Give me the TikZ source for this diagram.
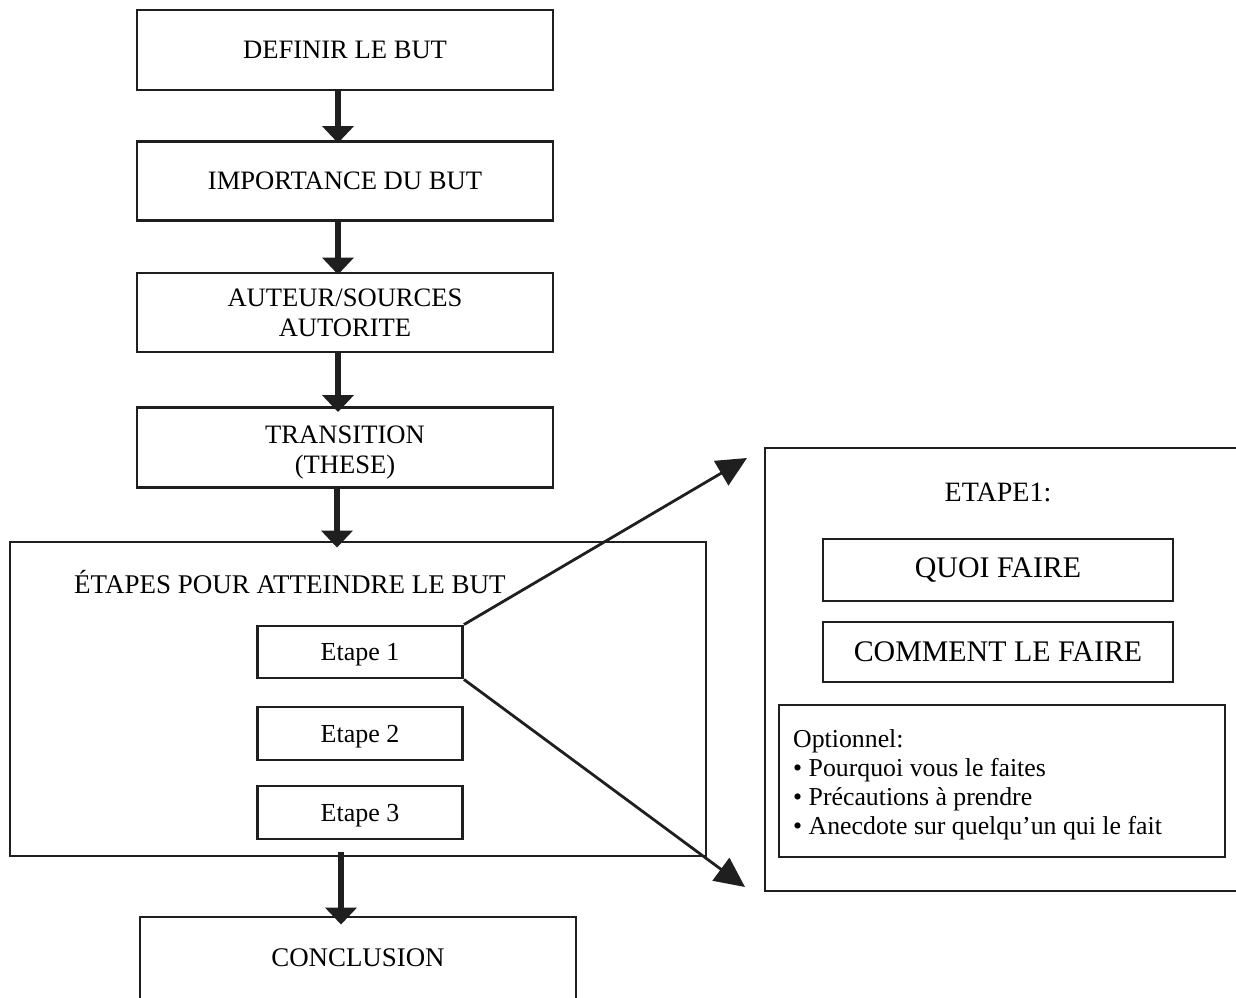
\documentclass[tikz,border=0pt]{standalone}
\usepackage{fontspec}
\setmainfont{Liberation Serif}
\usetikzlibrary{arrows.meta}
\begin{document}
\begin{tikzpicture}[x=1pt,y=-1pt,
  box/.style={draw=black!88, line width=2.9pt, rectangle, inner sep=0pt, align=center,
    font=\fontsize{26.6}{30}\selectfont},
  fat/.style={line width=5.5pt, draw=black!88, -{Triangle[length=17pt,width=31pt]}},
  thin/.style={line width=2.8pt, draw=black!88, -{Triangle[length=30pt,width=28pt]}},
  lbl/.style={inner sep=0pt, align=center}]
\useasboundingbox (0,0) rectangle (1236,997);
\clip (0,0) rectangle (1236,997);
% left column
\node[box, minimum width=416pt, minimum height=80pt] (b1) at (345,50) {DEFINIR LE BUT};
\node[box, minimum width=416pt, minimum height=79pt] (b2) at (345,181) {IMPORTANCE DU BUT};
\node[box, minimum width=416pt, minimum height=79pt] (b3) at (345,312.5) {AUTEUR/SOURCES\\AUTORITE};
\node[box, minimum width=416pt, minimum height=80pt] (b4) at (345,447.5) {};
\node[lbl, font=\fontsize{26.6}{30}\selectfont] (b4t) at (345,453) {TRANSITION\\(THESE)};
\node[box, minimum width=696pt, minimum height=314pt] (big) at (358,699) {};
\node[lbl, anchor=west, font=\fontsize{27}{30}\selectfont] (title) at (74,582) {ÉTAPES POUR ATTEINDRE LE BUT};
\node[box, minimum width=205pt, minimum height=52pt, font=\fontsize{26}{30}\selectfont, text depth=0pt] (e1) at (360,652) {Etape 1};
\node[box, minimum width=205pt, minimum height=53pt, font=\fontsize{26}{30}\selectfont, text depth=0pt] (e2) at (360,733.5) {Etape 2};
\node[box, minimum width=205pt, minimum height=53pt, font=\fontsize{26}{30}\selectfont, text depth=0pt] (e3) at (360,812.5) {Etape 3};
\node[box, minimum width=436pt, minimum height=100pt] (concl) at (358,967) {};
\node[lbl, font=\fontsize{26.9}{30}\selectfont] (conclt) at (358,958) {CONCLUSION};
% right panel
\node[box, minimum width=500pt, minimum height=443pt] (rp) at (1015,669.5) {};
\node[lbl, font=\fontsize{28}{30}\selectfont] (et1) at (998,492) {ETAPE1:};
\node[box, minimum width=350pt, minimum height=62pt, font=\fontsize{29.9}{30}\selectfont] (quoi) at (998,570) {QUOI FAIRE};
\node[box, minimum width=350pt, minimum height=60pt, font=\fontsize{29.9}{30}\selectfont] (comm) at (998,652) {COMMENT LE FAIRE};
\node[box, minimum width=446pt, minimum height=152pt] (opt) at (1002,781) {};
\node[lbl, anchor=north west, align=left, font=\fontsize{25.8}{29.2}\selectfont] (optt) at (793,729)
  {Optionnel:\\• Pourquoi vous le faites\\• Précautions à prendre\\• Anecdote sur quelqu’un qui le fait};
% arrows
\draw[fat] ([xshift=-7pt]b1.south) -- ([xshift=-7pt,yshift=-3pt]b2.north);
\draw[fat] ([xshift=-7pt]b2.south) -- ([xshift=-7pt,yshift=-3pt]b3.north);
\draw[fat] ([xshift=-7pt]b3.south) -- ([xshift=-7pt,yshift=-6pt]b4.north);
\draw[fat] ([xshift=-8pt]b4.south) -- ([xshift=-8pt,yshift=-7pt]b4.south |- big.north);
\draw[fat] ([xshift=-17pt,yshift=5pt]big.south) -- ([xshift=-17pt,yshift=-9pt]concl.north);
\coordinate (tipA) at (747,458);
\coordinate (tipB) at (745,887);
\draw[thin] (e1.north east) -- (tipA);
\draw[thin] (e1.south east) -- (tipB);
\end{tikzpicture}
\end{document}
